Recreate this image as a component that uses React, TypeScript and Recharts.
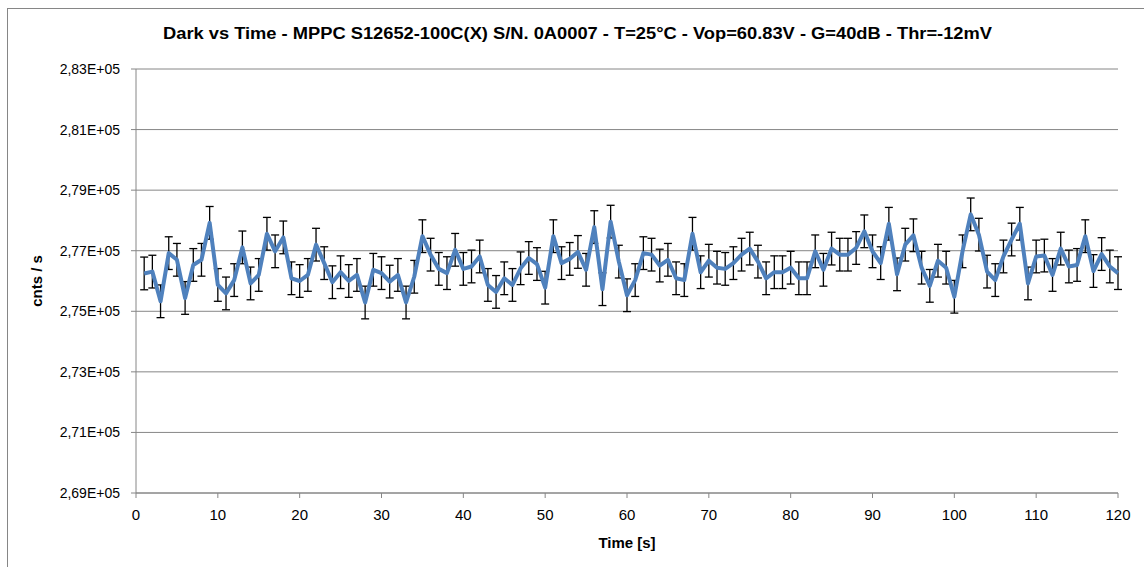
import React from 'react';
import { LineChart, Line, XAxis, YAxis, CartesianGrid, ErrorBar, Label } from 'recharts';

const TITLE = 'Dark vs Time - MPPC S12652-100C(X) S/N. 0A0007 - T=25°C - Vop=60.83V - G=40dB - Thr=-12mV';
const X_LABEL = 'Time [s]';
const Y_LABEL = 'cnts / s';

const times = [
  1, 2, 3, 4, 5, 6, 7, 8, 9, 10, 11, 12, 13, 14, 15, 16, 17, 18, 19, 20,
  21, 22, 23, 24, 25, 26, 27, 28, 29, 30, 31, 32, 33, 34, 35, 36, 37, 38, 39, 40,
  41, 42, 43, 44, 45, 46, 47, 48, 49, 50, 51, 52, 53, 54, 55, 56, 57, 58, 59, 60,
  61, 62, 63, 64, 65, 66, 67, 68, 69, 70, 71, 72, 73, 74, 75, 76, 77, 78, 79, 80,
  81, 82, 83, 84, 85, 86, 87, 88, 89, 90, 91, 92, 93, 94, 95, 96, 97, 98, 99, 100,
  101, 102, 103, 104, 105, 106, 107, 108, 109, 110, 111, 112, 113, 114, 115, 116, 117, 118, 119, 120,
];

const darkRate = [
  276250, 276310, 275330, 276920, 276700, 275440, 276530, 276700, 277920, 275870,
  275590, 276030, 277110, 275920, 276200, 277560, 276980, 277440, 276090, 276000,
  276200, 277200, 276590, 275960, 276290, 276000, 276200, 275290, 276370, 276260,
  275980, 276200, 275290, 276140, 277480, 276870, 276400, 276260, 277030, 276400,
  276480, 276810, 275870, 275640, 276090, 275870, 276420, 276760, 276560, 275780,
  277480, 276590, 276730, 276960, 276370, 277780, 275730, 277960, 276640, 275530,
  276030, 276920, 276870, 276510, 276700, 276090, 276030, 277560, 276290, 276670,
  276440, 276400, 276590, 276870, 277070, 276640, 276090, 276290, 276290, 276440,
  276090, 276090, 276980, 276370, 277070, 276870, 276870, 277090, 277640, 276980,
  276590, 277890, 276220, 277200, 277510, 276440, 275840, 276670, 276440, 275480,
  276980, 278200, 277530, 276310, 276030, 276810, 277370, 277890, 275920, 276810,
  276840, 276200, 277070, 276480, 276530, 277480, 276330, 276890, 276480, 276260,
];

const ERROR = 540;

const xTicks = [0, 10, 20, 30, 40, 50, 60, 70, 80, 90, 100, 110, 120];
const yTicks = [269000, 271000, 273000, 275000, 277000, 279000, 281000, 283000];

const data = times.map((t, i) => ({ t, v: darkRate[i], err: ERROR }));

const fmtY = (v: number) => (v / 1e5).toFixed(2).replace('.', ',') + 'E+05';

const FONT = '"Liberation Sans", Arial, sans-serif';
const GRAY = '#868686';

export default function App() {
  return (
    <div style={{ position: 'absolute', left: 0, top: 0, width: 1144, height: 567, background: '#fff', fontFamily: FONT }}>
      <div style={{ position: 'absolute', left: 7, top: 8, width: 1137, height: 559, borderLeft: `1px solid ${GRAY}`, borderTop: `1px solid ${GRAY}`, boxSizing: 'border-box' }} />
      <svg style={{ position: 'absolute', left: 0, top: 0 }} width={1144} height={60}>
        <text
          x={577.5}
          y={39}
          textAnchor="middle"
          textLength={829}
          lengthAdjust="spacingAndGlyphs"
          style={{ fontFamily: FONT, fontWeight: 'bold', fontSize: 16, fill: '#000' }}
        >
          {TITLE}
        </text>
      </svg>
      <div style={{ position: 'absolute', left: 0, top: 0 }}>
        <LineChart width={1144} height={567} data={data} margin={{ top: 69, right: 26, left: 0, bottom: 0 }}>
          <CartesianGrid horizontal={true} vertical={false} stroke={GRAY} strokeWidth={1} />
          <XAxis
            dataKey="t"
            type="number"
            domain={[0, 120]}
            ticks={xTicks}
            height={74}
            stroke={GRAY}
            tickSize={5}
            tickMargin={11}
            tick={{ fill: '#000', fontSize: 15, fontFamily: FONT }}
            interval={0}
          >
            <Label value={X_LABEL} position="insideTop" offset={44} style={{ fontWeight: 'bold', fontSize: 15, fill: '#000', fontFamily: FONT }} />
          </XAxis>
          <YAxis
            type="number"
            domain={[269000, 283000]}
            ticks={yTicks}
            width={136}
            stroke={GRAY}
            tickSize={5}
            tickMargin={11}
            tickFormatter={fmtY}
            tick={{ fill: '#000', fontSize: 14, fontFamily: FONT }}
            interval={0}
            allowDataOverflow={true}
          >
            <Label value={Y_LABEL} angle={-90} position="insideLeft" offset={37} style={{ fontWeight: 'bold', fontSize: 15, fill: '#000', fontFamily: FONT, textAnchor: 'middle' }} />
          </YAxis>
          <Line
            dataKey="v"
            type="linear"
            stroke="#4f81bd"
            strokeWidth={4}
            dot={false}
            isAnimationActive={false}
            strokeLinejoin="round"
          >
            <ErrorBar dataKey="err" direction="y" width={4} stroke="#000" strokeWidth={1.3} isAnimationActive={false} />
          </Line>
        </LineChart>
      </div>
    </div>
  );
}
